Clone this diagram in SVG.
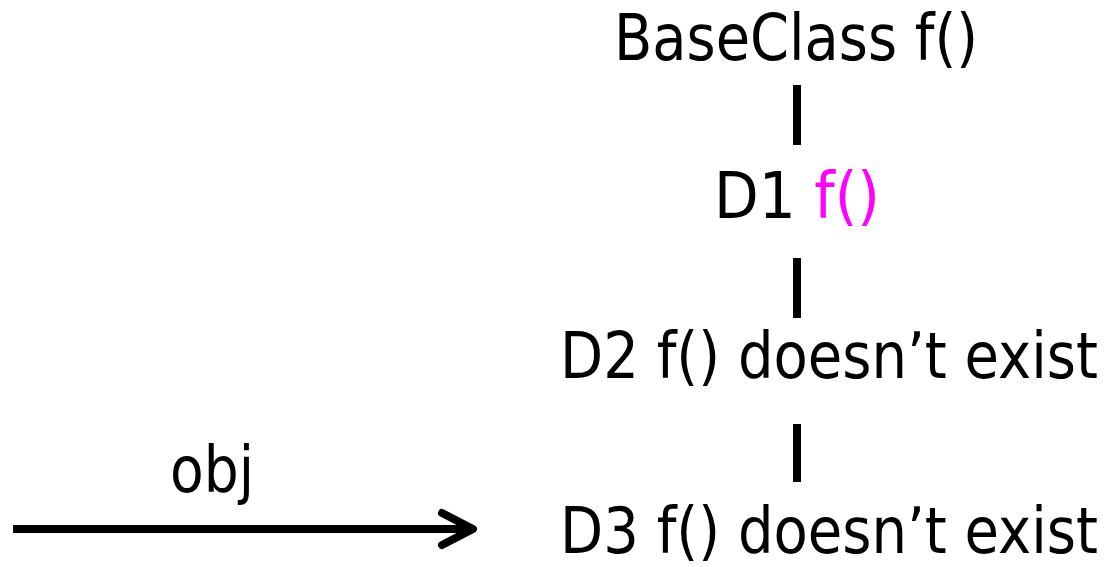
<svg xmlns="http://www.w3.org/2000/svg" width="1106" height="567" viewBox="0 0 1106 567">
  <style>
    .lbl { font-family: "DejaVu Sans", "Verdana", sans-serif; font-size: 64px; fill: #000; }
    .end { text-anchor: end; }
    .hi { fill: #FF00FF; }
    .link { stroke: #000; stroke-width: 8; fill: none; }
  </style>
  <defs>
    <marker id="chev" viewBox="0 0 20 20" refX="17" refY="10" markerWidth="20" markerHeight="20" markerUnits="userSpaceOnUse" orient="auto" overflow="visible">
      <path d="M-14,-6 L17,10 L-14,26" fill="none" stroke="#000" stroke-width="8" stroke-linecap="round" stroke-linejoin="round"/>
    </marker>
  </defs>
  <rect width="1106" height="567" fill="#fff"/>

  <g id="connectors">
    <line class="link" x1="797" y1="85" x2="797" y2="145"/>
    <line class="link" x1="797" y1="258" x2="797" y2="318"/>
    <line class="link" x1="797" y1="424" x2="797" y2="482"/>
    <line class="link" x1="13" y1="529" x2="473" y2="529" marker-end="url(#chev)"/>
  </g>

  <g id="base">
    <text class="lbl" x="614" y="60" textLength="364" lengthAdjust="spacingAndGlyphs">BaseClass f()</text>
  </g>
  <g id="d1">
    <text class="lbl" x="714" y="218" textLength="166" lengthAdjust="spacingAndGlyphs">D1 <tspan class="hi">f()</tspan></text>
  </g>
  <g id="d2">
    <text class="lbl end" x="1098" y="378" textLength="538" lengthAdjust="spacingAndGlyphs">D2 f() doesn’t exist</text>
  </g>
  <g id="d3">
    <text class="lbl end" x="1098" y="553" textLength="538" lengthAdjust="spacingAndGlyphs">D3 f() doesn’t exist</text>
  </g>
  <g id="obj">
    <text class="lbl" x="170" y="492" textLength="84" lengthAdjust="spacingAndGlyphs">obj</text>
  </g>
</svg>
